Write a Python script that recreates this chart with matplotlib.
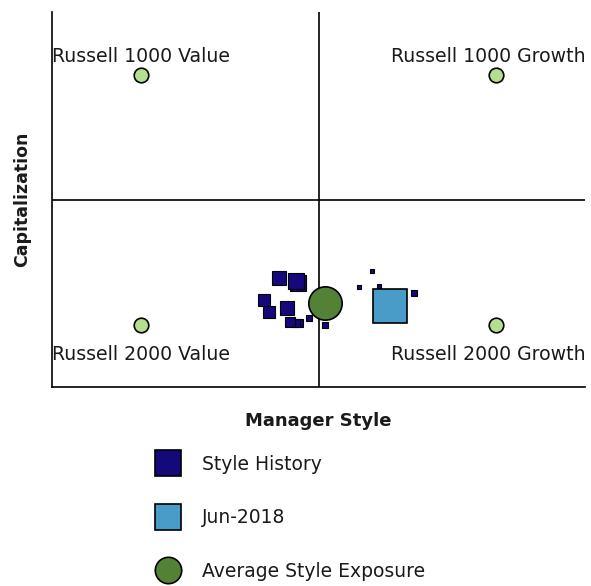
import matplotlib
matplotlib.use("Agg")
import matplotlib.pyplot as plt
from matplotlib.lines import Line2D

plt.rcParams['font.family'] = ['DejaVu Sans']

# Benchmarks
bench_names = ["Russell 1000 Value", "Russell 1000 Growth", "Russell 2000 Value", "Russell 2000 Growth"]
bench_x = [-1.0, 1.0, -1.0, 1.0]
bench_y = [1.0, 1.0, -1.0, -1.0]

# Style history (oldest first)
hist_x = [0.30, 0.23, 0.34, 0.535, 0.034, -0.056, -0.107, -0.124, -0.158, -0.180, -0.276, -0.304, -0.118, -0.124, -0.225]
hist_y = [-0.57, -0.70, -0.69, -0.745, -1.00, -0.95, -0.99, -0.99, -0.98, -0.87, -0.90, -0.80, -0.665, -0.65, -0.625]
hist_ms = [2.2, 2.5, 3.0, 4.5, 5.0, 4.5, 5.5, 6.0, 7.0, 9.5, 8.5, 8.0, 11.0, 11.0, 9.5]

# Current and average
cur_x, cur_y = [0.405], [-0.855]
avg_x, avg_y = [0.034], [-0.825]

NAVY = "#15087A"
LBLUE = "#4A9CC8"
GREEN = "#538135"
LGREEN = "#B5DF8E"
TXT = "#1a1a1a"

fig = plt.figure(figsize=(5.91, 5.86), dpi=100)
ax = fig.add_axes([52/591, 1-387/586, (585-52)/591, (387-12)/586])
ax.set_xlim(-1.5, 1.5)
ax.set_ylim(-1.5, 1.5)
ax.set_xticks([])
ax.set_yticks([])
for s in ["top", "right"]:
    ax.spines[s].set_visible(False)
for s in ["left", "bottom"]:
    ax.spines[s].set_linewidth(1.2)
ax.axvline(0, color="black", lw=1.2, zorder=1)
ax.axhline(0, color="black", lw=1.2, zorder=1)

ax.scatter(bench_x, bench_y, s=110, marker="o", facecolor=LGREEN, edgecolor="black", linewidth=1.2, zorder=3)
for name, x, y in zip(bench_names, bench_x, bench_y):
    tx = x if x < 0 else x - 0.045
    ty = y + 0.145 if y > 0 else y - 0.24
    ax.text(tx, ty, name, ha="center", va="center", fontsize=13.6, color=TXT, clip_on=False)

for x, y, m in zip(hist_x, hist_y, hist_ms):
    ax.plot([x], [y], marker="s", ms=m, mfc=NAVY, mec="black", mew=0.8, ls="none", zorder=4)
ax.plot(cur_x, cur_y, marker="s", ms=24, mfc=LBLUE, mec="black", mew=1.2, ls="none", zorder=5)
ax.plot(avg_x, avg_y, marker="o", ms=24, mfc=GREEN, mec="black", mew=1.2, ls="none", zorder=6)

ax.set_ylabel("Capitalization", fontsize=12.5, fontweight="bold", labelpad=15, color=TXT)
ax.set_xlabel("Manager Style", fontsize=13, fontweight="bold", labelpad=18, color=TXT)

handles = [
    Line2D([], [], marker="s", ms=19, mfc=NAVY, mec="black", mew=1.2, ls="none"),
    Line2D([], [], marker="s", ms=19, mfc=LBLUE, mec="black", mew=1.2, ls="none"),
    Line2D([], [], marker="o", ms=19, mfc=GREEN, mec="black", mew=1.2, ls="none"),
]
labels = ["Style History", "Jun-2018", "Average Style Exposure"]
fig.legend(handles, labels, loc="upper left", bbox_to_anchor=(149/591, 1-455/586),
           frameon=False, fontsize=13.5, labelspacing=1.83, handlelength=2.0, handletextpad=0.83,
           borderaxespad=0, borderpad=0, labelcolor=TXT)

fig.savefig("out.png", dpi=100)
